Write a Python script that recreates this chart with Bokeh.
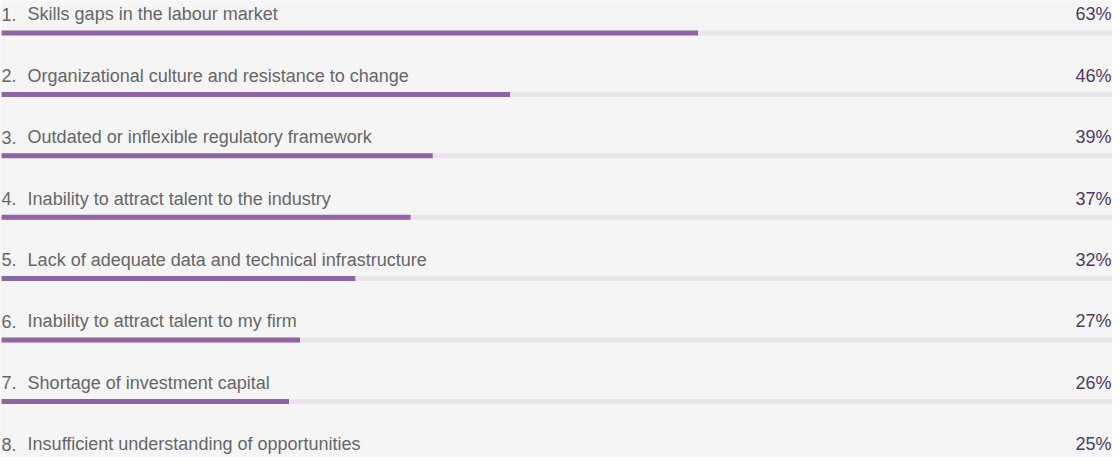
from bokeh.plotting import figure
from bokeh.models import ColumnDataSource, Range1d
from bokeh.core.properties import value
from bokeh.embed import file_html
from bokeh.resources import INLINE

numbers = ["1.", "2.", "3.", "4.", "5.", "6.", "7.", "8."]
labels = [
    "Skills gaps in the labour market",
    "Organizational culture and resistance to change",
    "Outdated or inflexible regulatory framework",
    "Inability to attract talent to the industry",
    "Lack of adequate data and technical infrastructure",
    "Inability to attract talent to my firm",
    "Shortage of investment capital",
    "Insufficient understanding of opportunities",
]
values = [63, 46, 39, 37, 32, 27, 26, 25]

BG = "#f5f5f5"
BAR = "#9063a3"
TRACK = "#ebe4ec"
ROW = 61.4
W, H = 1112, 457
base_px = 13.8
bar_off = (32.5 - base_px) / ROW
bar_h = 5 / ROW

rows = list(range(len(values)))
src = ColumnDataSource(dict(
    y=rows,
    ybar=[r + bar_off for r in rows],
    num=numbers,
    lab=labels,
    val=values,
    pct=[f"{v}%" for v in values],
    zero=[0] * len(values),
    full=[100.5] * len(values),
))

p = figure(width=W, height=H, output_backend="svg", toolbar_location=None,
           x_range=Range1d(-0.1, 100.5),
           y_range=Range1d((H - base_px) / ROW, -base_px / ROW),
           min_border=0, outline_line_color=None,
           background_fill_color=BG, border_fill_color=BG)
p.axis.visible = False
p.grid.visible = False

p.hbar(y="ybar", left="zero", right="full", height=bar_h, source=src,
       fill_color=TRACK, line_color=None)
p.hbar(y="ybar", left="zero", right="val", height=bar_h, source=src,
       fill_color=BAR, line_color=None)

font = value("Liberation Sans")
p.text(x="zero", y="y", text="num", source=src, text_font=font,
       text_font_size="18px", text_color="#666666",
       text_align="left", text_baseline="alphabetic")
p.text(x="zero", y="y", text="lab", source=src, text_font=font,
       text_font_size="18px", text_color="#666666", x_offset=26,
       text_align="left", text_baseline="alphabetic")
p.text(x="full", y="y", text="pct", source=src, text_font=font,
       text_font_size="18px", text_color="#4b3b66", x_offset=-1,
       text_align="right", text_baseline="alphabetic")

open("out.html", "w").write(file_html(p, INLINE))
